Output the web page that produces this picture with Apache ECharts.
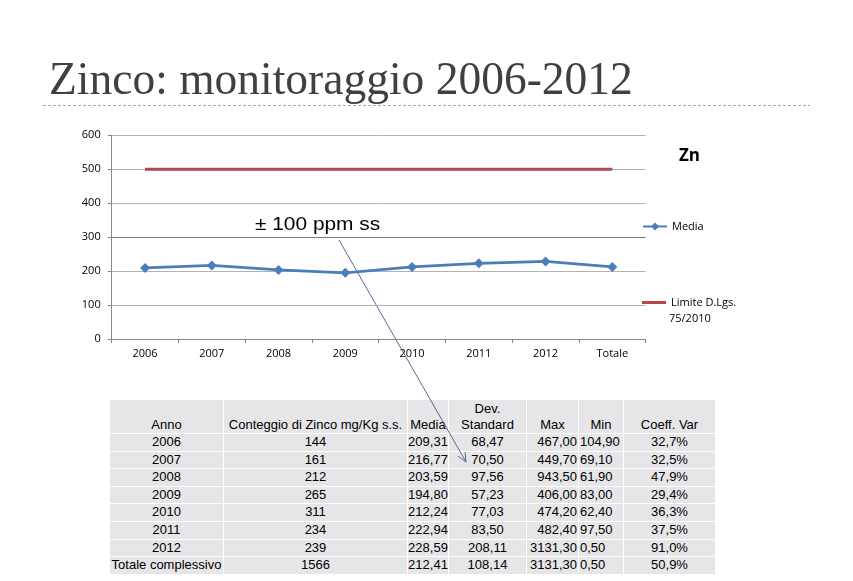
<!DOCTYPE html>
<html>
<head>
<meta charset="utf-8">
<script src="https://cdn.jsdelivr.net/npm/echarts@6/dist/echarts.min.js"></script>
<style>
  html, body { margin:0; padding:0; background:#fff; }
  #wrap { position:relative; width:853px; height:581px; overflow:hidden; }
  #chart { position:absolute; left:0; top:0; width:853px; height:581px; z-index:2; }
  #tbl { position:absolute; left:110px; top:400px; z-index:1; }
  table { border-collapse:separate; border-spacing:0; table-layout:fixed;
          font-family:"Liberation Sans", Arial, sans-serif; font-size:13px; color:#000; }
  td { background:#e6e6e8; border-right:1px solid #fff; border-bottom:1px solid #fff;
       padding:0; white-space:nowrap; overflow:visible; text-align:center;
       height:16.6px; line-height:16.6px; }
  tr.head td { height:32px; line-height:15.5px; vertical-align:bottom; padding-bottom:1px; }
  td.r { text-align:right; padding-right:1px; }
  td.l { text-align:left; padding-left:1px; }
</style>
</head>
<body>
<div id="wrap">
  <div id="tbl"></div>
  <div id="chart"></div>
</div>
<script>
// ---- chart data ----
const categories = ['2006', '2007', '2008', '2009', '2010', '2011', '2012', 'Totale'];
const mediaValues = [209.31, 216.77, 203.59, 194.80, 212.24, 222.94, 228.59, 212.41];
const limiteValues = [500, 500, 500, 500, 500, 500, 500, 500];
const seriesNames = ['Media', 'Limite D.Lgs. 75/2010'];
const yMin = 0, yMax = 600, yInterval = 100;

// ---- table data ----
const tableHeaders = ['Anno', 'Conteggio di Zinco mg/Kg s.s.', 'Media', 'Dev.<br>Standard', 'Max', 'Min', 'Coeff. Var'];
const tableRows = ['2006', '2007', '2008', '2009', '2010', '2011', '2012', 'Totale complessivo'];
const conteggio = [144, 161, 212, 265, 311, 234, 239, 1566];
const devStandard = [68.47, 70.50, 97.56, 57.23, 77.03, 83.50, 208.11, 108.14];
const maxValues = [467.00, 449.70, 943.50, 406.00, 474.20, 482.40, 3131.30, 3131.30];
const minValues = [104.90, 69.10, 61.90, 83.00, 62.40, 97.50, 0.50, 0.50];
const coeffVar = [32.7, 32.5, 47.9, 29.4, 36.3, 37.5, 91.0, 50.9];

// ---- build table ----
const colWidths = [114, 184, 41, 78, 52, 45, 92];
const colClass = ['', '', '', '', 'r', 'l', ''];
const fmt = (v, d) => v.toFixed(d).replace('.', ',');
let html = '<table><colgroup>' + colWidths.map(w => '<col style="width:' + w + 'px">').join('') + '</colgroup>';
html += '<tr class="head">' + tableHeaders.map(h => '<td>' + h + '</td>').join('') + '</tr>';
tableRows.forEach((name, i) => {
  const cells = [name, String(conteggio[i]), fmt(mediaValues[i], 2), fmt(devStandard[i], 2),
                 fmt(maxValues[i], 2), fmt(minValues[i], 2), fmt(coeffVar[i], 1) + '%'];
  html += '<tr>' + cells.map((c, j) => '<td class="' + colClass[j] + '">' + c + '</td>').join('') + '</tr>';
});
html += '</table>';
document.getElementById('tbl').innerHTML = html;

// ---- arrow geometry ----
const a0 = [339, 240], a1 = [466, 462];
const dx = a1[0] - a0[0], dy = a1[1] - a0[1], len = Math.hypot(dx, dy);
const ux = dx / len, uy = dy / len, ah = 9, aw = 4;
const headPts = [
  [a1[0] - ux * ah - uy * aw, a1[1] - uy * ah + ux * aw],
  [a1[0], a1[1]],
  [a1[0] - ux * ah + uy * aw, a1[1] - uy * ah - ux * aw]
];

const labelFont = '"Open Sans", "Noto Sans", sans-serif';
const chart = echarts.init(document.getElementById('chart'), null, { renderer: 'canvas' });
chart.setOption({
  backgroundColor: 'transparent',
  animation: false,
  grid: { left: 111.7, right: 207.3, top: 135.3, bottom: 242, containLabel: false },
  xAxis: {
    type: 'category',
    data: categories,
    boundaryGap: true,
    axisLine: { lineStyle: { color: '#868686', width: 1 } },
    axisTick: { show: true, length: 4, interval: 0, lineStyle: { color: '#868686' } },
    axisLabel: { color: '#000', fontSize: 11, fontFamily: labelFont, margin: 9, interval: 0 },
    splitLine: { show: false }
  },
  yAxis: {
    type: 'value',
    min: yMin, max: yMax, interval: yInterval,
    axisLine: { show: true, lineStyle: { color: '#868686', width: 1 } },
    axisTick: { show: true, length: 4, lineStyle: { color: '#868686' } },
    axisLabel: { color: '#000', fontSize: 11, fontFamily: labelFont, margin: 11 },
    splitLine: { show: true, lineStyle: { color: ['#b3b3b3', '#b3b3b3', '#b3b3b3', '#7a7a7a', '#b3b3b3', '#b3b3b3', '#b3b3b3'], width: 1 } }
  },
  legend: [
    {
      data: [seriesNames[0]],
      left: 642, top: 221, orient: 'vertical', padding: 0,
      itemWidth: 24, itemHeight: 10, itemGap: 0,
      textStyle: { color: '#000', fontSize: 11, fontFamily: labelFont }
    },
    {
      data: [{ name: seriesNames[1], icon: 'rect' }],
      left: 642, top: 297, orient: 'vertical', padding: 0,
      itemWidth: 24, itemHeight: 3, itemGap: 0,
      formatter: () => 'Limite D.Lgs.',
      textStyle: { color: '#000', fontSize: 11, fontFamily: labelFont }
    }
  ],
  series: [
    {
      name: seriesNames[0], type: 'line', data: mediaValues,
      symbol: 'diamond', symbolSize: 10, showSymbol: true,
      lineStyle: { color: '#4a7ebb', width: 2.8 },
      itemStyle: { color: '#4a7ebb' },
      z: 3
    },
    {
      name: seriesNames[1], type: 'line', data: limiteValues,
      symbol: 'none',
      lineStyle: { color: '#b4484a', width: 2.8 },
      itemStyle: { color: '#b4484a' },
      z: 2
    }
  ],
  graphic: [
    { type: 'text', x: 49, y: 82, style: { text: 'Zinco: monitoraggio 2006-2012', fill: '#404040',
      font: '45.5px "Liberation Serif", "DejaVu Serif", serif', verticalAlign: 'middle', align: 'left' } },
    { type: 'line', shape: { x1: 43, y1: 105.5, x2: 810, y2: 105.5 },
      style: { stroke: '#a8a8a8', lineWidth: 1, lineDash: [3, 2] } },
    { type: 'text', x: 679, y: 156, style: { text: 'Zn', fill: '#000',
      font: 'bold 17px "Open Sans", sans-serif', verticalAlign: 'middle', align: 'left' } },
    { type: 'text', x: 669, y: 319, style: { text: '75/2010', fill: '#000',
      font: '11px "Open Sans", sans-serif', verticalAlign: 'middle', align: 'left' } },
    { type: 'text', x: 255, y: 225, scaleX: 1.16, style: { text: '± 100 ppm ss', fill: '#000',
      font: '18px "Liberation Sans", Arial, sans-serif', verticalAlign: 'middle', align: 'left' } },
    { type: 'line', shape: { x1: a0[0], y1: a0[1], x2: a1[0], y2: a1[1] },
      style: { stroke: '#5c6594', lineWidth: 1 } },
    { type: 'polyline', shape: { points: headPts }, style: { stroke: '#5c6594', lineWidth: 1, fill: null } }
  ]
});
</script>
</body>
</html>
